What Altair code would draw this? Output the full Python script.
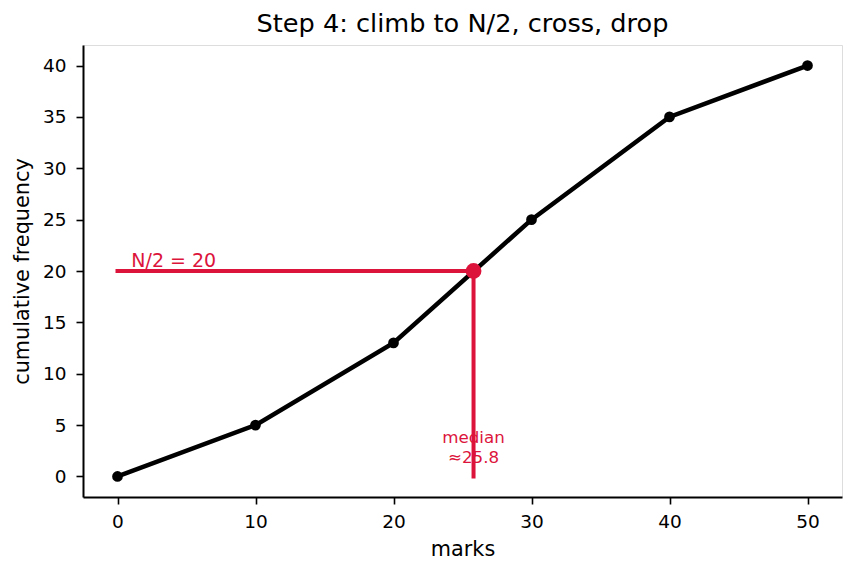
import altair as alt
import pandas as pd

# ogive data
marks = [0, 10, 20, 30, 40, 50]
cum_freq = [0, 5, 13, 25, 35, 40]
half_n = 20
median = 25.8

RED = "#DC143C"
FONT = "DejaVu Sans"

df = pd.DataFrame({"marks": marks, "cf": cum_freq})

x_scale = alt.Scale(domain=[-2.5, 52.5], nice=False, zero=False)
y_scale = alt.Scale(domain=[-2, 42], nice=False, zero=False)

x_axis = alt.Axis(values=marks, title="marks", grid=False, tickSize=7, tickWidth=1.6,
                  domainWidth=2, domainColor="black", tickColor="black",
                  labelFontSize=18.5, titleFontSize=20.8, labelPadding=8,
                  titlePadding=9, labelColor="black", titleColor="black",
                  titleFontWeight="normal", labelFont=FONT, titleFont=FONT)
y_axis = alt.Axis(values=list(range(0, 41, 5)), title="cumulative frequency", grid=False,
                  tickSize=7, tickWidth=1.6, domainWidth=2, domainColor="black",
                  tickColor="black", labelFontSize=18.5, titleFontSize=20.8,
                  labelPadding=10, titlePadding=10, labelColor="black",
                  titleColor="black", titleFontWeight="normal",
                  labelFont=FONT, titleFont=FONT)

base = alt.Chart(df)

curve = base.mark_line(color="black", strokeWidth=4.5).encode(
    x=alt.X("marks:Q", scale=x_scale, axis=x_axis),
    y=alt.Y("cf:Q", scale=y_scale, axis=y_axis),
)
dots = base.mark_point(filled=True, color="black", size=115, opacity=1).encode(
    x=alt.X("marks:Q", scale=x_scale),
    y=alt.Y("cf:Q", scale=y_scale),
)

guide = pd.DataFrame({
    "x": [0, median],
    "x2": [median, median],
    "y": [half_n, half_n],
    "y2": [half_n, 0],
})
guides = alt.Chart(guide).mark_rule(color=RED, strokeWidth=4, strokeCap="square").encode(
    x=alt.X("x:Q", scale=x_scale),
    x2="x2:Q",
    y=alt.Y("y:Q", scale=y_scale),
    y2="y2:Q",
)

cross = alt.Chart(pd.DataFrame({"x": [median], "y": [half_n]})).mark_point(
    filled=True, color=RED, size=250, opacity=1
).encode(x=alt.X("x:Q", scale=x_scale), y=alt.Y("y:Q", scale=y_scale))

half_label = alt.Chart(pd.DataFrame({"t": [f"N/2 = {half_n}"]})).mark_text(
    color=RED, fontSize=19, font=FONT, align="left", baseline="alphabetic"
).encode(
    x=alt.datum(1, scale=x_scale),
    y=alt.datum(half_n + 0.4, scale=y_scale),
    text="t:N",
)

median_label = alt.Chart(pd.DataFrame({"t": [f"median\n≈{median}"]})).mark_text(
    color=RED, fontSize=16.7, font=FONT, align="center", baseline="alphabetic",
    lineBreak="\n", lineHeight=20
).encode(
    x=alt.datum(median, scale=x_scale),
    y=alt.datum(3.3, scale=y_scale),
    text="t:N",
)

chart = alt.layer(curve, guides, dots, cross, median_label, half_label).properties(
    width=759,
    height=452,
    padding={"left": 83, "top": 45, "right": 14, "bottom": 76},
    autosize=alt.AutoSizeParams(type="none"),
    title=alt.TitleParams("Step 4: climb to N/2, cross, drop", fontSize=25.6, font=FONT,
                          fontWeight="normal", color="black", anchor="middle", offset=7),
).configure_view(stroke=None).configure(background="white")

chart.save("out.html", embed_options={"renderer": "svg", "actions": False})
